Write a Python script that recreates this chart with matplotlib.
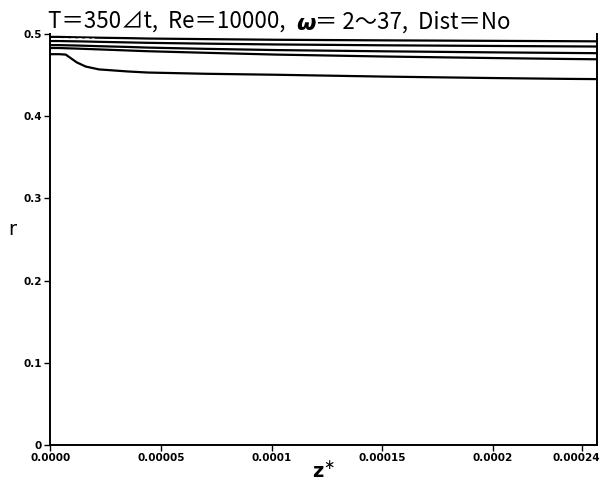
import matplotlib
matplotlib.use("Agg")
import matplotlib.pyplot as plt
from matplotlib import font_manager
from matplotlib.transforms import ScaledTranslation

# axial positions (z*) where the radial profiles are sampled
z = [0.0, 0.4e-5, 0.7e-5, 1.2e-5, 1.6e-5, 2.2e-5, 3.5e-5, 4.4e-5,
     7.0e-5, 1.02e-4, 1.5e-4, 2.0e-4, 2.33e-4, 2.47e-4]

# interface radius r for each line
r_a = [0.4960, 0.4960, 0.4958, 0.4955, 0.4953, 0.4950, 0.4945, 0.4940,
       0.4933, 0.4925, 0.4918, 0.4912, 0.4908, 0.4906]
r_b = [0.4910, 0.4910, 0.4908, 0.4906, 0.4904, 0.4900, 0.4893, 0.4888,
       0.4878, 0.4868, 0.4858, 0.4850, 0.4845, 0.4843]
r_c = [0.4860, 0.4860, 0.4858, 0.4855, 0.4852, 0.4847, 0.4838, 0.4830,
       0.4815, 0.4800, 0.4785, 0.4772, 0.4765, 0.4762]
r_d = [0.4825, 0.4825, 0.4822, 0.4818, 0.4814, 0.4808, 0.4795, 0.4786,
       0.4767, 0.4745, 0.4722, 0.4703, 0.4692, 0.4688]
r_e = [0.4750, 0.4750, 0.4745, 0.4650, 0.4600, 0.4565, 0.4540, 0.4527,
       0.4512, 0.4500, 0.4478, 0.4460, 0.4450, 0.4447]

# short dashed profile near the wall
z_dash = [0.0, 1.0e-5, 2.0e-5]
r_dash = [0.4936, 0.4935, 0.4933]

x_ticks = [0.0, 0.00005, 0.0001, 0.00015, 0.0002, 0.00024]
x_tick_labels = ["0.0000", "0.00005", "0.0001", "0.00015", "0.0002", "0.00024"]
y_ticks = [0.0, 0.1, 0.2, 0.3, 0.4, 0.5]
y_tick_labels = ["0", "0.1", "0.2", "0.3", "0.4", "0.5"]

title_parts = ["T＝350⊿t,  Re＝10000,  ", "ω", "＝ 2～37,  Dist＝No"]

names = {f.name for f in font_manager.fontManager.ttflist}
narrow = "Liberation Sans Narrow" if "Liberation Sans Narrow" in names else "DejaVu Sans"

fig = plt.figure(figsize=(6.05, 4.87), dpi=100)
ax = fig.add_axes([0.083, 0.086, 0.904, 0.845])

for r in (r_a, r_b, r_c, r_d, r_e):
    ax.plot(z, r, color="black", lw=1.6)
ax.plot(z_dash, r_dash, color="white", lw=1.0, ls=(0, (3, 2)))

ax.set_xlim(0, 0.000247)
ax.set_ylim(0, 0.5)
ax.spines["top"].set_visible(False)
for s in ("left", "bottom", "right"):
    ax.spines[s].set_linewidth(1.4)

ax.set_xticks(x_ticks)
ax.set_xticklabels(x_tick_labels, fontfamily=narrow, fontweight="bold", fontsize=7.5)
ax.set_yticks(y_ticks)
ax.set_yticklabels(y_tick_labels, fontfamily=narrow, fontweight="bold", fontsize=7.5)
ax.tick_params(direction="out", length=4, width=1.0, pad=2)
# keep the last tick label inside the figure
last = ax.get_xticklabels()[-1]
last.set_transform(last.get_transform() + ScaledTranslation(-5 / 100, 0, fig.dpi_scale_trans))

ax.set_xlabel("z$^{\\ast}$", fontsize=14, fontweight="bold", labelpad=-2,
              fontfamily="DejaVu Sans")
ax.set_ylabel("r", fontsize=14, rotation=0, labelpad=8, fontfamily="DejaVu Sans")

# title drawn in pieces so that omega can be bold italic
fam = ["Noto Sans CJK JP", "DejaVu Sans"]
fig.canvas.draw()
renderer = fig.canvas.get_renderer()
x0 = 0.080
y0 = 0.930
styles = [dict(), dict(family="DejaVu Sans", style="italic", weight="bold"), dict()]
for part, st in zip(title_parts, styles):
    kw = dict(fontsize=16.1, family=fam, ha="left", va="bottom")
    kw.update(st)
    t = fig.text(x0, y0, part, **kw)
    bb = t.get_window_extent(renderer=renderer)
    x0 += bb.width / fig.bbox.width

fig.savefig("out.png", dpi=100)
